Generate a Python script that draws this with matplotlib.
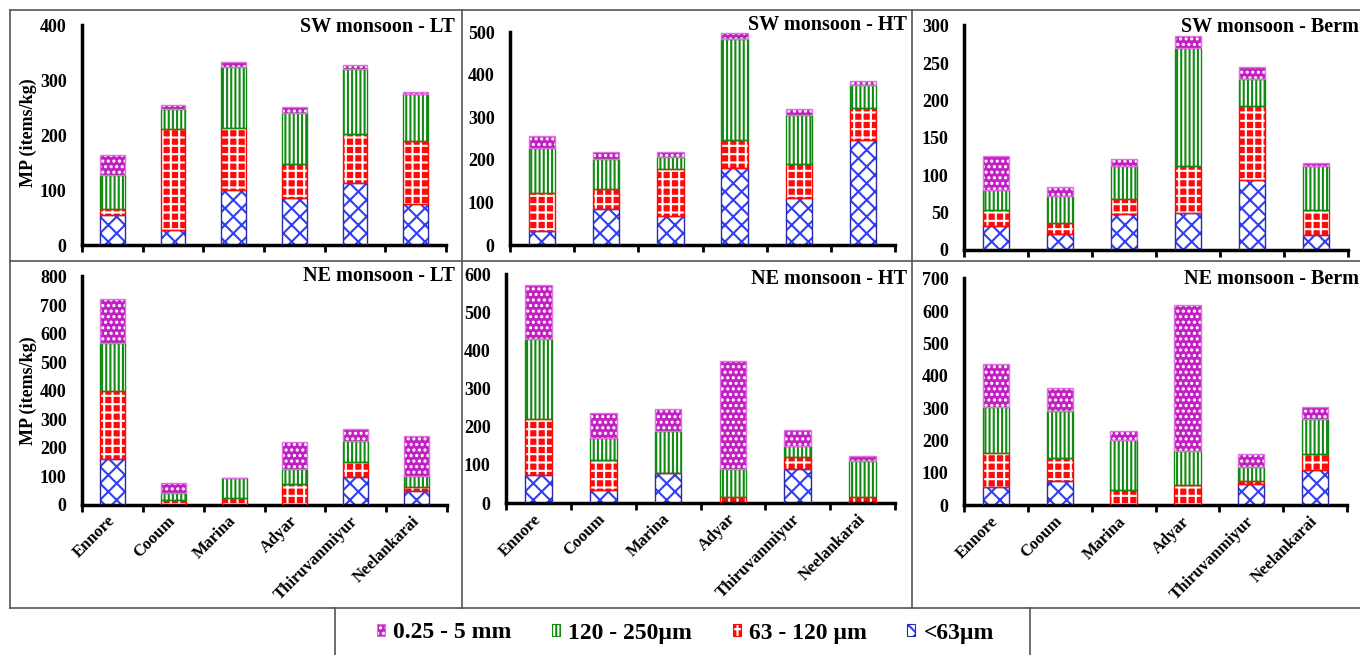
import numpy as np
import matplotlib
matplotlib.use("Agg")
import matplotlib.pyplot as plt
from matplotlib.patches import Patch
from matplotlib.lines import Line2D
from matplotlib.legend_handler import HandlerTuple

plt.rcParams['font.family'] = ['Liberation Serif', 'DejaVu Serif']
plt.rcParams['font.weight'] = 'bold'
plt.rcParams['hatch.linewidth'] = 1.5

sites = ['Ennore', 'Cooum', 'Marina', 'Adyar', 'Thiruvanmiyur', 'Neelankarai']
size_classes = ['<63\u00b5m', '63 - 120 \u00b5m', '120 - 250\u00b5m', '0.25 - 5 mm']

# values per size class (bottom -> top), items/kg
sw_lt_lt63 = [55, 27, 101, 85, 113, 75]
sw_lt_63_120 = [11, 184, 112, 63, 89, 115]
sw_lt_120_250 = [62, 37, 112, 93, 119, 85]
sw_lt_025_5 = [36, 7, 9, 10, 8, 4]

sw_ht_lt63 = [34, 85, 68, 180, 110, 248]
sw_ht_63_120 = [89, 47, 110, 68, 80, 73]
sw_ht_120_250 = [106, 70, 29, 236, 116, 55]
sw_ht_025_5 = [27, 17, 12, 14, 13, 10]

sw_berm_lt63 = [32, 22, 48, 50, 94, 20]
sw_berm_63_120 = [22, 14, 20, 63, 99, 34]
sw_berm_120_250 = [26, 36, 45, 157, 36, 59]
sw_berm_025_5 = [46, 12, 9, 17, 16, 3]

ne_lt_lt63 = [162, 0, 0, 0, 97, 49]
ne_lt_63_120 = [238, 18, 22, 74, 53, 13]
ne_lt_120_250 = [169, 24, 71, 51, 75, 40]
ne_lt_025_5 = [152, 34, 0, 96, 40, 138]

ne_ht_lt63 = [74, 33, 78, 0, 90, 0]
ne_ht_63_120 = [148, 81, 0, 15, 31, 15]
ne_ht_120_250 = [208, 56, 112, 75, 29, 95]
ne_ht_025_5 = [143, 66, 58, 282, 42, 14]

ne_berm_lt63 = [58, 74, 0, 0, 67, 110]
ne_berm_63_120 = [105, 72, 46, 62, 7, 49]
ne_berm_120_250 = [140, 145, 157, 105, 45, 109]
ne_berm_025_5 = [132, 71, 27, 452, 38, 35]

titles = ['SW monsoon - LT', 'SW monsoon - HT', 'SW monsoon - Berm',
          'NE monsoon - LT', 'NE monsoon - HT', 'NE monsoon - Berm']
ymaxes = [400, 500, 300, 800, 600, 700]
ysteps = [100, 100, 50, 100, 100, 100]
panels = [
    [sw_lt_lt63, sw_lt_63_120, sw_lt_120_250, sw_lt_025_5],
    [sw_ht_lt63, sw_ht_63_120, sw_ht_120_250, sw_ht_025_5],
    [sw_berm_lt63, sw_berm_63_120, sw_berm_120_250, sw_berm_025_5],
    [ne_lt_lt63, ne_lt_63_120, ne_lt_120_250, ne_lt_025_5],
    [ne_ht_lt63, ne_ht_63_120, ne_ht_120_250, ne_ht_025_5],
    [ne_berm_lt63, ne_berm_63_120, ne_berm_120_250, ne_berm_025_5],
]

W, H = 1360, 655
fig = plt.figure(figsize=(W / 100, H / 100), dpi=100)

# style per size class: (face, hatch colour, hatch, edge)
styles = [
    ('white', '#3040f0', 'xx', '#2a2aa8'),
    ('#ff0a0a', 'white', '++', '#ff0a0a'),
    ('white', '#118a11', '||||', '#118a11'),
    ('#c21fc2', 'white', '...', '#e070e0'),
]

# axes boxes in pixels: left, right, top, bottom(zero line)
boxes = [
    (82, 446, 25.7, 245),
    (510, 895, 32.3, 245),
    (964, 1348, 26, 250),
    (82, 447, 277, 504.7),
    (506, 895, 274.7, 503),
    (964, 1347, 278.7, 505.3),
]
title_pos = [(455, 27), (907, 25), (1359, 27), (455, 276), (907, 278.7), (1359, 278.7)]

x = np.arange(len(sites))
bw = 0.41
for i, (vals, box) in enumerate(zip(panels, boxes)):
    l, r, t, b = box
    ax = fig.add_axes([l / W, 1 - b / H, (r - l) / W, (b - t) / H])
    bottom = np.zeros(len(sites))
    for v, (fc, hc, hatch, ec) in zip(vals, styles):
        v = np.array(v, dtype=float)
        ax.bar(x, v, bw, bottom=bottom, facecolor=fc, edgecolor=hc, hatch=hatch,
               linewidth=0, zorder=2)
        ax.bar(x, v, bw, bottom=bottom, fill=False, edgecolor=ec,
               linewidth=1.0, zorder=3)
        bottom += v
    ax.set_xlim(-0.5, 5.5)
    ax.set_ylim(0, ymaxes[i])
    ax.set_yticks(np.arange(0, ymaxes[i] + 1, ysteps[i]))
    ax.tick_params(axis='y', length=0, pad=11, labelsize=13)
    for s in ['top', 'right']:
        ax.spines[s].set_visible(False)
    for s in ['left', 'bottom']:
        ax.spines[s].set_linewidth(2.5)
    ax.spines['left'].set_bounds(0, ymaxes[i] * 1.003)
    ax.set_xticks(np.arange(-0.5, 6, 1))
    ax.set_xticklabels([])
    ax.tick_params(axis='x', which='major', length=5, width=2, direction='out')
    ax.set_xticks(x, minor=True)
    if i >= 3:
        ax.set_xticklabels(sites, minor=True, rotation=45, ha='right',
                           rotation_mode='anchor', va='center', fontsize=12)
    ax.tick_params(axis='x', which='minor', length=0, pad=10)
    ax.patch.set_alpha(0)
    tx, ty = title_pos[i]
    fig.text(tx / W, 1 - ty / H, titles[i], ha='right', va='center',
             fontsize=14.5, fontweight='bold')

for yc in [133, 391]:
    fig.text(28 / W, 1 - yc / H, 'MP (items/kg)', rotation=90, ha='center',
             va='center', fontsize=13, fontweight='bold')

# frame lines
def fline(x0, y0, x1, y1):
    fig.add_artist(Line2D([x0 / W, x1 / W], [1 - y0 / H, 1 - y1 / H],
                          transform=fig.transFigure, color='#555555', lw=1.2))

fline(10, 10, 1360, 10)
fline(10, 10, 10, 608)
fline(10, 260.5, 1360, 260.5)
fline(10, 608, 1360, 608)
fline(461.5, 10, 461.5, 608)
fline(912.5, 10, 912.5, 608)
fline(335, 608, 335, 655)
fline(1030, 608, 1030, 655)

# legend
order = [3, 2, 1, 0]
handles = []
for k in order:
    fc, hc, hatch, ec = styles[k]
    p1 = Patch(facecolor=fc, edgecolor=hc, hatch=hatch, linewidth=0)
    p2 = Patch(fill=False, edgecolor=ec, linewidth=0.8)
    handles.append((p1, p2))
labels = [size_classes[k] for k in order]
fig.legend(handles, labels, loc='center', bbox_to_anchor=(0.504, 1 - 633 / H),
           ncol=4, frameon=False, fontsize=17, handlelength=0.35,
           handleheight=0.4, handletextpad=0.35, columnspacing=1.7,
           handler_map={tuple: HandlerTuple(ndivide=1, pad=0)})

fig.savefig('out.png', dpi=100)
